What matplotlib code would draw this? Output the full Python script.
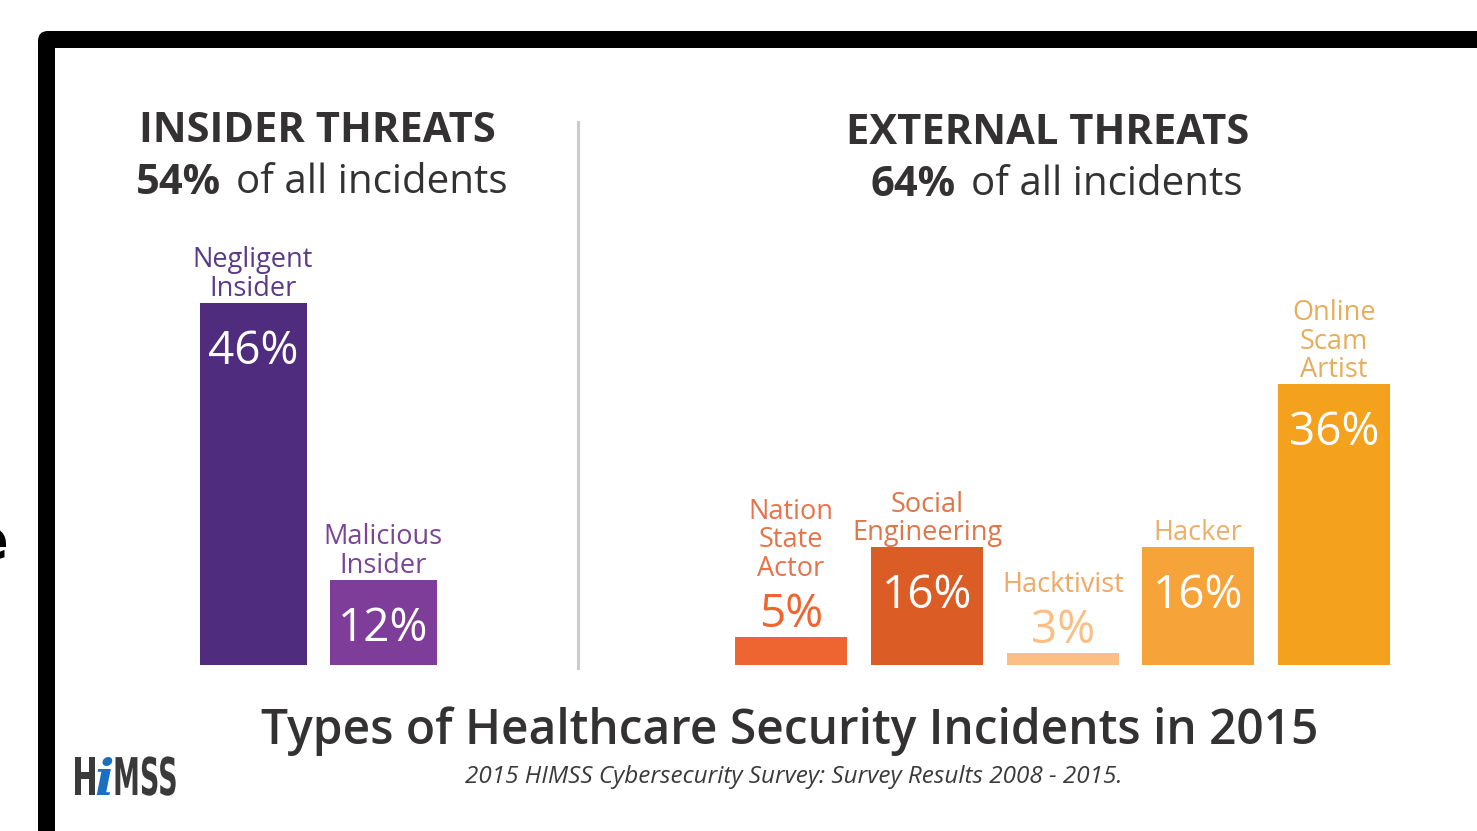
import matplotlib
matplotlib.use("Agg")
import matplotlib.pyplot as plt
from matplotlib.patches import FancyBboxPatch, PathPatch
from matplotlib.textpath import TextPath
from matplotlib.font_manager import FontProperties
from matplotlib.transforms import Affine2D

plt.rcParams['font.family'] = ['Open Sans', 'DejaVu Sans']

# share of incidents, in percent
insider_labels = ["Negligent\nInsider", "Malicious\nInsider"]
insider_values = [46, 12]
external_labels = ["Nation\nState\nActor", "Social\nEngineering", "Hacktivist",
                   "Hacker", "Online\nScam\nArtist"]
external_values = [5, 16, 3, 16, 36]
insider_total = 54
external_total = 64

insider_colors = ["#4f2c7e", "#7e3d98"]
insider_text = ["#5b3b88", "#7a4596"]
external_colors = ["#ee6532", "#dc5c25", "#fbbf85", "#f6a339", "#f4a11e"]
external_text = ["#e8724a", "#e07548", "#f2a862", "#eeae6a", "#e6ad5a"]

W, H = 1477, 831
fig = plt.figure(figsize=(W / 100, H / 100), dpi=100)

# background canvas in pixel units, y pointing down
bg = fig.add_axes([0, 0, 1, 1])
bg.set_xlim(0, W)
bg.set_ylim(H, 0)
bg.axis('off')

# black frame with rounded corner
bg.add_patch(FancyBboxPatch((38, 31), 1600, 1000,
                            boxstyle='round,pad=0,rounding_size=10',
                            fc='black', ec='none'))
bg.add_patch(FancyBboxPatch((55, 48), 1600, 1000, boxstyle='square,pad=0',
                            fc='white', ec='none'))
bg.text(8, 543, 'e', ha='right', va='center', fontsize=40, weight='bold',
        color='black', family='DejaVu Sans')

# headers
dark = '#333132'
bg.text(317, 131, 'INSIDER THREATS', ha='center', va='center', fontsize=30,
        weight='bold', color=dark)
bg.text(221, 183, f'{insider_total}%', ha='right', va='center', fontsize=30,
        weight='bold', color=dark)
bg.text(236, 183, 'of all incidents', ha='left', va='center', fontsize=29,
        color=dark)
bg.text(1048, 134, 'EXTERNAL THREATS', ha='center', va='center', fontsize=30,
        weight='bold', color=dark)
bg.text(956, 185, f'{external_total}%', ha='right', va='center', fontsize=30,
        weight='bold', color=dark)
bg.text(971, 185, 'of all incidents', ha='left', va='center', fontsize=29,
        color=dark)

# divider
bg.plot([578, 578], [122, 668], color='#cccccc', lw=2.2)

# footer
bg.text(790, 731, 'Types of Healthcare Security Incidents in 2015',
        ha='center', va='center', fontsize=34.5, weight='semibold', color=dark)
bg.text(794, 777, '2015 HIMSS Cybersecurity Survey: Survey Results 2008 - 2015.',
        ha='center', va='center', fontsize=17.5, style='italic', color='#3a3a3a')

# HIMSS logo
logo_fp = FontProperties(family='DejaVu Sans', weight='bold')


def logo_part(s, x, y, size, sx, color):
    tp = TextPath((0, 0), s, size=size, prop=logo_fp)
    tr = Affine2D().scale(sx, -1).translate(x, y)
    bg.add_patch(PathPatch(tr.transform_path(tp), fc=color, ec='none'))


logo_part('H', 72, 795, 52, 0.6, '#3a3a3a')
logo_part('MSS', 113, 795, 52, 0.52, '#3a3a3a')
bg.text(104, 795, 'i', ha='center', va='baseline', fontsize=37,
        style='italic', weight='bold', color='#1a6fc0', family='DejaVu Serif')

# bars: baseline at y=665 px, 8.14 px per percent, axis starts at 1.5%
base_px = 665
px_per_pct = 8.14
y0 = 1.5
ax = fig.add_axes([0, (H - base_px) / H, 1, 400 / H])
ax.set_xlim(0, W)
ax.set_ylim(y0, y0 + 400 / px_per_pct)
ax.axis('off')
ax.patch.set_alpha(0)

insider_x = [253, 383]
external_x = [791, 927, 1063, 1198, 1334]

ax.bar(insider_x, insider_values, width=107, color=insider_colors)
ax.bar(external_x, external_values, width=112, color=external_colors)

groups = [(insider_x, insider_values, insider_labels, insider_colors, insider_text),
          (external_x, external_values, external_labels, external_colors, external_text)]
for xs, vals, labels, cols, tcols in groups:
    for x, v, lab, c, tc in zip(xs, vals, labels, cols, tcols):
        if v >= 10:
            # value inside the bar, name above it
            ax.annotate(f'{v}%', (x, v), xytext=(0, -49), textcoords='offset pixels',
                        ha='center', va='center', fontsize=33, color='white')
            ax.annotate(lab, (x, v), xytext=(0, 0), textcoords='offset pixels',
                        ha='center', va='bottom', fontsize=19.5, color=tc,
                        linespacing=1.02)
        else:
            # short bar: value and name stacked above it
            ax.annotate(f'{v}%', (x, v), xytext=(0, 22), textcoords='offset pixels',
                        ha='center', va='center', fontsize=33, color=c)
            ax.annotate(lab, (x, v), xytext=(0, 54), textcoords='offset pixels',
                        ha='center', va='bottom', fontsize=19.5, color=tc,
                        linespacing=1.02)

fig.savefig('out.png', dpi=100, facecolor='white')
